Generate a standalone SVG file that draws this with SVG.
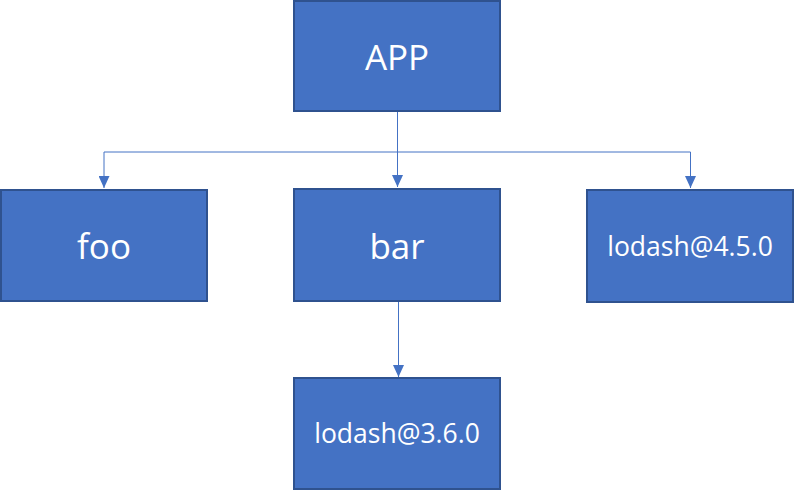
<svg xmlns="http://www.w3.org/2000/svg" width="794" height="490" viewBox="0 0 794 490">
<defs>
<style>
.box{fill:#4472C4;stroke:#2F528F;stroke-width:2}
.lbl{fill:#fff;font-family:"Open Sans","Noto Sans",sans-serif;text-anchor:middle}
.big{font-size:35px}
.small{font-size:26.5px}
.conn{fill:none;stroke:#4472C4;stroke-width:1}
</style>
<marker id="arr" viewBox="0 0 12 11" refX="12" refY="5.5" markerWidth="12" markerHeight="11" markerUnits="userSpaceOnUse" orient="auto">
<path d="M0,0 L12,5.5 L0,11 Z" fill="#4472C4"/>
</marker>
</defs>
<rect width="794" height="490" fill="#fff"/>
<g id="connectors">
<path class="conn" d="M397.5,112 V152 H104 V188" marker-end="url(#arr)"/>
<path class="conn" d="M397.5,152 V187" marker-end="url(#arr)"/>
<path class="conn" d="M397.5,152 H690.5 V188" marker-end="url(#arr)"/>
<path class="conn" d="M398.5,302 V377" marker-end="url(#arr)"/>
</g>
<g id="app">
<rect class="box" x="294" y="1" width="206" height="110"/>
<text class="lbl big" x="397" y="70">APP</text>
</g>
<g id="foo">
<rect class="box" x="1" y="190" width="206" height="111"/>
<text class="lbl big" x="104" y="259">foo</text>
</g>
<g id="bar">
<rect class="box" x="294" y="189" width="206" height="112"/>
<text class="lbl big" x="397" y="259">bar</text>
</g>
<g id="lodash450">
<rect class="box" x="587" y="190" width="206" height="112"/>
<text class="lbl small" x="690" y="256">lodash@4.5.0</text>
</g>
<g id="lodash360">
<rect class="box" x="294" y="378" width="206" height="111"/>
<text class="lbl small" x="397" y="443">lodash@3.6.0</text>
</g>
</svg>
